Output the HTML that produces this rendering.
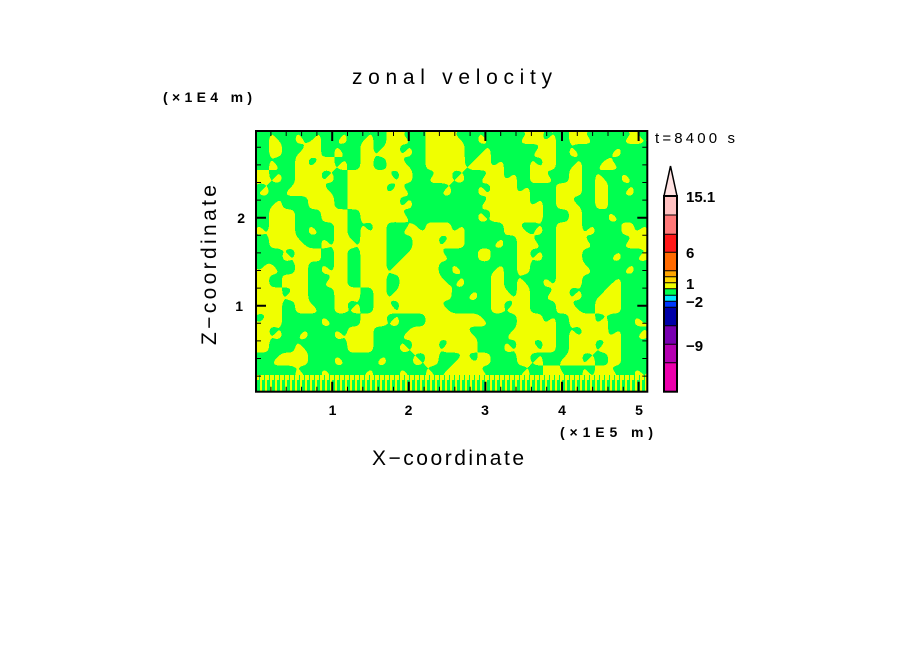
<!DOCTYPE html>
<html><head><meta charset="utf-8"><style>
html,body{margin:0;padding:0;background:#fff;}
svg{display:block;}
text{font-family:"Liberation Sans",Arial,sans-serif;fill:#000;}
</style></head><body>
<svg width="904" height="654" viewBox="0 0 904 654" xmlns="http://www.w3.org/2000/svg">
<defs>
<clipPath id="pc"><rect x="256" y="131" width="391.3" height="260.7"/></clipPath>
<filter id="bl" filterUnits="userSpaceOnUse" x="220" y="100" width="460" height="330" color-interpolation-filters="sRGB">
<feGaussianBlur in="SourceAlpha" stdDeviation="3.2" result="b"/>
<feComponentTransfer in="b" result="t"><feFuncA type="discrete" tableValues="0 1"/></feComponentTransfer>
<feFlood flood-color="#00ff50" result="g"/>
<feComposite in="g" in2="t" operator="in"/>
</filter>
<pattern id="st" patternUnits="userSpaceOnUse" x="0" y="375" width="5" height="17">
<rect x="0" y="0" width="5" height="17" fill="#00ff50"/>
<rect x="0" y="0" width="2" height="17" fill="#f0ff00"/>
<rect x="2" y="0" width="2" height="5" fill="#f0ff00"/>
</pattern>
</defs>
<rect width="904" height="654" fill="#fff"/>

<g clip-path="url(#pc)">
<rect x="250" y="125" width="405" height="275" fill="#f0ff00"/>
<g filter="url(#bl)">
<g transform="translate(256,131) scale(13.043,13.035)">
<path fill="#000" d="M-1 -1h2v2h-2z M2 -1h1v2h-1z M5 -1h1v2h-1z M7 -1h1v2h-1z M9 -1h1v2h-1z M12 -1h1v2h-1z M16 -1h1v2h-1z M18 -1h2v2h-2z M23 -1h1v2h-1z M26 -1h2v2h-2z
M-1 1h2v1h-2z M2 1h1v1h-1z M5 1h1v1h-1z M7 1h1v1h-1z M12 1h1v1h-1z M16 1h1v1h-1z M18 1h3v1h-3z M23 1h1v1h-1z M25 1h2v1h-2z M28 1h3v1h-3z
M-1 2h2v1h-2z M2 2h1v1h-1z M7 2h1v1h-1z M9 2h1v1h-1z M12 2h1v1h-1z M19 2h2v1h-2z M23 2h1v1h-1z M25 2h1v1h-1z M28 2h3v1h-3z
M2 3h1v1h-1z M6 3h1v1h-1z M12 3h1v1h-1z M16 3h1v1h-1z M20 3h1v1h-1z M23 3h1v1h-1z M25 3h1v1h-1z M27 3h1v1h-1z M29 3h2v1h-2z
M1 4h1v1h-1z M6 4h1v1h-1z M12 4h2v1h-2z M15 4h2v1h-2z M21 4h2v1h-2z M25 4h1v1h-1z M27 4h1v1h-1z M29 4h2v1h-2z
M-1 5h2v1h-2z M2 5h2v1h-2z M6 5h1v1h-1z M12 5h5v1h-5z M22 5h1v1h-1z M25 5h1v1h-1z M27 5h4v1h-4z
M-1 6h2v1h-2z M3 6h2v1h-2z M7 6h1v1h-1z M12 6h5v1h-5z M22 6h2v1h-2z M25 6h2v1h-2z M28 6h3v1h-3z
M3 7h1v1h-1z M5 7h1v1h-1z M7 7h1v1h-1z M10 7h1v1h-1z M16 7h3v1h-3z M22 7h1v1h-1z M26 7h2v1h-2z
M-1 8h2v1h-2z M4 8h1v1h-1z M10 8h2v1h-2z M16 8h2v1h-2z M19 8h1v1h-1z M22 8h1v1h-1z M26 8h2v1h-2z
M-1 9h3v1h-3z M5 9h1v1h-1z M7 9h1v1h-1z M10 9h1v1h-1z M15 9h2v1h-2z M18 9h2v1h-2z M22 9h1v1h-1z M25 9h2v1h-2z M28 9h1v1h-1z
M2 10h1v1h-1z M4 10h1v1h-1z M7 10h1v1h-1z M14 10h1v1h-1z M16 10h2v1h-2z M19 10h1v1h-1z M21 10h2v1h-2z M26 10h2v1h-2z M29 10h2v1h-2z
M1 11h1v1h-1z M4 11h1v1h-1z M7 11h1v1h-1z M10 11h1v1h-1z M16 11h2v1h-2z M19 11h1v1h-1z M21 11h1v1h-1z M25 11h2v1h-2z M28 11h3v1h-3z
M4 12h2v1h-2z M8 12h1v1h-1z M15 12h1v1h-1z M17 12h1v1h-1z M21 12h1v1h-1z M25 12h1v1h-1z M28 12h3v1h-3z
M2 13h1v1h-1z M5 13h1v1h-1z M8 13h1v1h-1z M15 13h3v1h-3z M21 13h2v1h-2z M25 13h1v1h-1z M28 13h3v1h-3z
M2 14h3v1h-3z M6 14h2v1h-2z M11 14h2v1h-2z M18 14h2v1h-2z M23 14h1v1h-1z M27 14h2v1h-2z
M2 15h1v1h-1z M4 15h2v1h-2z M9 15h2v1h-2z M17 15h2v1h-2z M23 15h1v1h-1z M28 15h1v1h-1z
M1 16h2v1h-2z M4 16h3v1h-3z M9 16h2v1h-2z M17 16h2v1h-2z M23 16h1v1h-1z M28 16h3v1h-3z
M-1 17h2v1h-2z M4 17h2v1h-2z M7 17h2v1h-2z M10 17h2v1h-2z M14 17h1v1h-1z M18 17h2v1h-2z M22 17h1v1h-1z M26 17h1v1h-1z M28 17h3v1h-3z
M-1 18h4v3h-4z M4 18h1v3h-1z M6 18h2v3h-2z M9 18h2v3h-2z M12 18h1v3h-1z M18 18h2v3h-2z M21 18h1v3h-1z M24 18h1v3h-1z M28 18h1v3h-1z"/>
<path fill="#000" d="M1 0h1v1z M3 0h1v1z M4 0h1l-1 1z M6 0h1l-1 1z M8 0h1l-1 1z M11 0h1v1z M15 0h1v1z M17 0h1v1z M20 0h1l-1 1z M22 0h1l-1 1z M25 0h1v1z M28 0h1l-1 1z M29 0h1v1z M30 0h1v1z
M1 -1h1v1z M3 -1h1v1z M4 -1h1l-1 1z M6 -1h1l-1 1z M8 -1h1l-1 1z M11 -1h1v1z M15 -1h1v1z M17 -1h1v1z M20 -1h1l-1 1z M22 -1h1l-1 1z M25 -1h1v1z M28 -1h1l-1 1z M29 -1h1v1z M30 -1h1v1z
M3 1h1l-1 1z M6 1h1v1z M9 1h1l-1 1z M11 1h1l-1 1z M17 1h1l-1 1z M21 1h1l-1 1z M24 1h1v1z M27 1h1l-1 1z
M1 2h1v1z M4 2h1l-1 1z M6 2h1l-1 1z M11 2h1v1z M16 2h1l-1 1z M18 2h1l-1 1z M21 2h1v1z M24 2h1l-1 1z M26 2h1l-1 1z M27 2h1v1z
M1 3h1l-1 1z M5 3h1l-1 1z M10 3h1v1z M13 3h1l-1 1z M15 3h1l-1 1z M17 3h1l-1 1z M19 3h1l-1 1z M22 3h1v1z M26 3h1v1z M28 3h1v1z
M-1 4h1l-1 1z M0 4h1l-1 1z M2 4h1l-1 1z M5 4h1v1z M10 4h1l-1 1z M11 4h1v1z M14 4h1l-1 1z M17 4h1v1z M20 4h1l-1 1z M28 4h1l-1 1z
M1 5h1l-1 1z M11 5h1l-1 1z M17 5h1l-1 1z M21 5h1l-1 1z M24 5h1v1z
M11 6h1v1z M17 6h1v1z M27 6h1v1z
M-1 7h1v1z M0 7h1v1z M4 7h1v1z M8 7h1v1z M11 7h1l-1 1z M12 7h1v1z M15 7h1l-1 1z M20 7h1v1z M21 7h1l-1 1z M25 7h1l-1 1z M29 7h1l-1 1z M30 7h1l-1 1z
M3 8h1v1z M5 8h1v1z M7 8h1v1z M14 8h1l-1 1z M18 8h1l-1 1z M21 8h1v1z M25 8h1v1z M28 8h1l-1 1z
M2 9h1v1z M11 9h1l-1 1z M14 9h1v1z M21 9h1l-1 1z M27 9h1l-1 1z M29 9h1l-1 1z M30 9h1l-1 1z
M-1 10h1l-1 1z M0 10h1l-1 1z M1 10h1v1z M5 10h1v1z M10 10h1l-1 1z M15 10h1v1z M18 10h1l-1 1z M25 10h1v1z M28 10h1l-1 1z
M5 11h1l-1 1z M14 11h1v1z M15 11h1l-1 1z M20 11h1v1z M22 11h1v1z M27 11h1l-1 1z
M2 12h1l-1 1z M10 12h1l-1 1z M16 12h1l-1 1z M19 12h1v1z M22 12h1l-1 1z M24 12h1l-1 1z M26 12h1l-1 1z
M4 13h1v1z M7 13h1l-1 1z M10 13h1v1z M14 13h1v1z M19 13h1l-1 1z M24 13h1v1z
M-1 14h1l-1 1z M0 14h1l-1 1z M5 14h1v1z M10 14h1l-1 1z M17 14h1v1z M22 14h1l-1 1z M26 14h1l-1 1z M29 14h1v1z M30 14h1v1z
M1 15h1l-1 1z M3 15h1l-1 1z M6 15h1v1z M11 15h1l-1 1z M16 15h1v1z M19 15h1l-1 1z M24 15h1v1z M27 15h1l-1 1z M29 15h1l-1 1z M30 15h1l-1 1z
M3 16h1v1z M11 16h1v1z M14 16h1l-1 1z M19 16h1v1z M21 16h1v1z M26 16h1l-1 1z
M1 17h1l-1 1z M6 17h1v1z M9 17h1l-1 1z M12 17h1v1z M15 17h1l-1 1z M16 17h1v1z M21 17h1l-1 1z M23 17h1l-1 1z M25 17h1l-1 1z
M3 18h1v1z M5 18h1v1z M8 18h1l-1 1z M11 18h1v1z M13 18h1v1z M14 18h1l-1 1z M17 18h1v1z M20 18h1l-1 1z M23 18h1v1z M25 18h1v1z M27 18h1v1z M29 18h1v1z M30 18h1v1z
M3 19h1v1z M5 19h1v1z M8 19h1l-1 1z M11 19h1v1z M13 19h1v1z M14 19h1l-1 1z M17 19h1v1z M20 19h1l-1 1z M23 19h1v1z M25 19h1v1z M27 19h1v1z M29 19h1v1z"/>
</g>
</g>
<rect x="256" y="375" width="392" height="18" fill="url(#st)"/>
</g>

<!-- frame -->
<rect x="256" y="131" width="391.3" height="260.7" fill="none" stroke="#000" stroke-width="2"/>

<!-- major ticks -->
<g stroke="#000" stroke-width="2">
<path d="M332.2 391.7v-10M408.8 391.7v-10M485.4 391.7v-10M562 391.7v-10M638.6 391.7v-10"/>
<path d="M332.2 131v10M408.8 131v10M485.4 131v10M562 131v10M638.6 131v10"/>
<path d="M256 305.7h10M256 217.7h10M647.3 305.7h-10M647.3 217.7h-10"/>
</g>
<g stroke="#000" stroke-width="1">
<path d="M270.9 391.7v-5M286.2 391.7v-5M301.6 391.7v-5M316.9 391.7v-5M347.5 391.7v-5M362.8 391.7v-5M378.2 391.7v-5M393.5 391.7v-5M424.1 391.7v-5M439.4 391.7v-5M454.8 391.7v-5M470.1 391.7v-5M500.7 391.7v-5M516 391.7v-5M531.4 391.7v-5M546.7 391.7v-5M577.3 391.7v-5M592.6 391.7v-5M608 391.7v-5M623.3 391.7v-5"/>
<path d="M270.9 131v5M286.2 131v5M301.6 131v5M316.9 131v5M347.5 131v5M362.8 131v5M378.2 131v5M393.5 131v5M424.1 131v5M439.4 131v5M454.8 131v5M470.1 131v5M500.7 131v5M516 131v5M531.4 131v5M546.7 131v5M577.3 131v5M592.6 131v5M608 131v5M623.3 131v5"/>
<path d="M256 376.1h5M256 358.5h5M256 340.9h5M256 323.3h5M256 288.1h5M256 270.5h5M256 252.9h5M256 235.3h5M256 200.1h5M256 182.5h5M256 164.9h5M256 147.3h5"/>
<path d="M647.3 376.1h-5M647.3 358.5h-5M647.3 340.9h-5M647.3 323.3h-5M647.3 288.1h-5M647.3 270.5h-5M647.3 252.9h-5M647.3 235.3h-5M647.3 200.1h-5M647.3 182.5h-5M647.3 164.9h-5M647.3 147.3h-5"/>
</g>

<!-- labels -->
<text x="352" y="84" font-size="21" textLength="200" lengthAdjust="spacing">zonal velocity</text>
<text x="163" y="102" font-size="14" font-weight="bold" textLength="89" lengthAdjust="spacing">(×1E4 m)</text>
<text transform="translate(216,265) rotate(-90)" text-anchor="middle" font-size="21" textLength="160" lengthAdjust="spacing">Z−coordinate</text>
<text x="372" y="465" font-size="21" textLength="152" lengthAdjust="spacing">X−coordinate</text>
<text x="560" y="437" font-size="14" font-weight="bold" textLength="93" lengthAdjust="spacing">(×1E5 m)</text>
<g font-size="14" font-weight="bold" text-anchor="middle">
<text x="332.5" y="415">1</text><text x="408.5" y="415">2</text><text x="485" y="415">3</text><text x="562" y="415">4</text><text x="639" y="415">5</text>
</g>
<g font-size="14" font-weight="bold" text-anchor="end">
<text x="245" y="223">2</text><text x="243" y="311">1</text>
</g>
<text x="655" y="143" font-size="15" textLength="80" lengthAdjust="spacing">t=8400 s</text>

<!-- colorbar -->
<polygon points="664,196 677,196 670.5,166" fill="#ffe2e2" stroke="#000" stroke-width="1.5" stroke-linejoin="miter"/>
<rect x="664" y="196" width="13" height="19" fill="#ffc0c0"/>
<rect x="664" y="215" width="13" height="19.3" fill="#ff7878"/>
<rect x="664" y="234.3" width="13" height="18" fill="#ff1818"/>
<rect x="664" y="252.3" width="13" height="18.4" fill="#ff6a00"/>
<rect x="664" y="270.7" width="13" height="6" fill="#ffa500"/>
<rect x="664" y="276.7" width="13" height="6" fill="#ffd700"/>
<rect x="664" y="282.7" width="13" height="6" fill="#f0ff00"/>
<rect x="664" y="288.7" width="13" height="6.6" fill="#00ff50"/>
<rect x="664" y="295.3" width="13" height="6" fill="#00e8ff"/>
<rect x="664" y="301.3" width="13" height="6" fill="#0038ff"/>
<rect x="664" y="307.3" width="13" height="18.4" fill="#0000a8"/>
<rect x="664" y="325.7" width="13" height="18.6" fill="#7800b0"/>
<rect x="664" y="344.3" width="13" height="18.4" fill="#b400b0"/>
<rect x="664" y="362.7" width="13" height="29" fill="#ec00ac"/>
<g stroke="#000" stroke-width="1">
<path d="M664 215h13M664 234.3h13M664 252.3h13M664 270.7h13M664 276.7h13M664 282.7h13M664 288.7h13M664 295.3h13M664 301.3h13M664 307.3h13M664 325.7h13M664 344.3h13M664 362.7h13"/>
</g>
<rect x="664" y="196" width="13" height="195.7" fill="none" stroke="#000" stroke-width="2"/>
<g font-size="15" font-weight="bold">
<text x="686" y="202">15.1</text>
<text x="686" y="258">6</text>
<text x="686" y="289">1</text>
<text x="686" y="307">−2</text>
<text x="686" y="351">−9</text>
</g>
</svg>
</body></html>
